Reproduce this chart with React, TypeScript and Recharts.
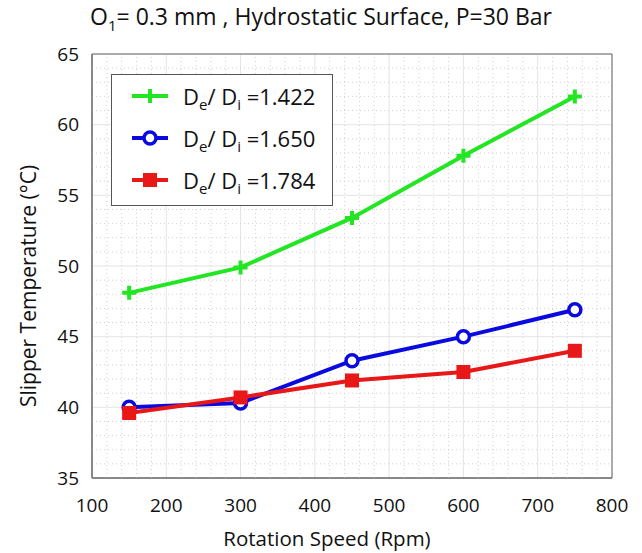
import React from 'react';
import {
  LineChart,
  Line,
  XAxis,
  YAxis,
  CartesianGrid,
  Legend,
  ReferenceLine,
  ReferenceArea,
} from 'recharts';

// rotation speed (rpm) and slipper temperature (°C) for each De/Di ratio
const speeds = [150, 300, 450, 600, 750];
const ratio1422 = [48.1, 49.9, 53.4, 57.8, 62.0];
const ratio1650 = [40.0, 40.3, 43.3, 45.0, 46.9];
const ratio1784 = [39.6, 40.7, 41.9, 42.5, 44.0];

const xTicks = [100, 200, 300, 400, 500, 600, 700, 800];
const yTicks = [35, 40, 45, 50, 55, 60, 65];

const data = speeds.map((s, i) => ({
  speed: s,
  r1422: ratio1422[i],
  r1650: ratio1650[i],
  r1784: ratio1784[i],
}));

// dotted minor grid: every 20 rpm and every 1 °C
const minorX: number[] = [];
for (let v = 120; v < 800; v += 20) if (v % 100 !== 0) minorX.push(v);
const minorY: number[] = [];
for (let v = 36; v < 65; v += 1) if (v % 5 !== 0) minorY.push(v);

const GREEN = '#22e622';
const BLUE = '#0a0ae0';
const RED = '#e81818';

const FONT = '"Open Sans", "Noto Sans", sans-serif';

const PlusDot = (props: any) => {
  const { cx, cy } = props;
  if (cx == null || cy == null) return null;
  return (
    <path
      d={`M${cx - 7},${cy}h14M${cx},${cy - 7}v14`}
      stroke={GREEN}
      strokeWidth={4}
      fill="none"
    />
  );
};

const CircleDot = (props: any) => {
  const { cx, cy } = props;
  if (cx == null || cy == null) return null;
  return <circle cx={cx} cy={cy} r={6} fill="#fff" stroke={BLUE} strokeWidth={3.5} />;
};

const SquareDot = (props: any) => {
  const { cx, cy } = props;
  if (cx == null || cy == null) return null;
  return <rect x={cx - 7} y={cy - 7} width={14} height={14} fill={RED} />;
};

const series = [
  { key: 'r1422', label: '1.422', color: GREEN, dot: PlusDot },
  { key: 'r1650', label: '1.650', color: BLUE, dot: CircleDot },
  { key: 'r1784', label: '1.784', color: RED, dot: SquareDot },
];

const LegendIcon = ({ idx, color }: { idx: number; color: string }) => (
  <svg width={40} height={20} style={{ display: 'block' }}>
    <line x1={2} y1={10} x2={38} y2={10} stroke={color} strokeWidth={4} />
    {idx === 0 && <path d="M13,10h14M20,3v14" stroke={color} strokeWidth={4} />}
    {idx === 1 && <circle cx={20} cy={10} r={6} fill="#fff" stroke={color} strokeWidth={3.5} />}
    {idx === 2 && <rect x={13} y={3} width={14} height={14} fill={color} />}
  </svg>
);

const renderLegend = () => (
  <div
    style={{
      width: 222,
      height: 132,
      border: '1px solid #555',
      background: '#fff',
      boxSizing: 'border-box',
      padding: '0 0 0 18px',
      fontFamily: FONT,
      fontSize: 22,
      color: '#111',
    }}
  >
    {series.map((s, i) => (
      <div key={s.key} style={{ display: 'flex', alignItems: 'center', height: 42 }}>
        <LegendIcon idx={i} color={s.color} />
        <span style={{ marginLeft: 13, whiteSpace: 'nowrap', lineHeight: '26px' }}>
          D<sub style={{ fontSize: 15, lineHeight: 0 }}>e</sub>/ D
          <sub style={{ fontSize: 15, lineHeight: 0 }}>i</sub> ={s.label}
        </span>
      </div>
    ))}
  </div>
);

const YTitle = (props: any) => {
  const vb = props.viewBox || {};
  const cx = 28;
  const cy = vb.y + vb.height / 2 + 20;
  return (
    <text
      x={cx}
      y={cy}
      transform={`rotate(-90, ${cx}, ${cy})`}
      textAnchor="middle"
      dominantBaseline="central"
      fill="#111"
      fontSize={21}
      fontFamily={FONT}
    >
      Slipper Temperature (°C)
    </text>
  );
};

const XTitle = (props: any) => {
  const vb = props.viewBox || {};
  const cx = vb.x + vb.width / 2 - 25;
  return (
    <text x={cx} y={538} textAnchor="middle" dominantBaseline="central" fill="#111" fontSize={20.5} fontFamily={FONT}>
      Rotation Speed (Rpm)
    </text>
  );
};

export default function App() {
  return (
    <div style={{ position: 'absolute', left: 0, top: 0, width: 642, height: 553, background: '#fff' }}>
      <div
        style={{
          position: 'absolute',
          left: 0,
          top: 0,
          width: 642,
          textAlign: 'center',
          fontFamily: FONT,
          fontSize: 23,
          color: '#111',
          zIndex: 2,
        }}
      >
        O<sub style={{ fontSize: 15 }}>1</sub>= 0.3 mm , Hydrostatic Surface, P=30 Bar
      </div>
      <LineChart
        width={642}
        height={553}
        data={data}
        margin={{ top: 54, right: 30, bottom: 27, left: 32 }}
        style={{ fontFamily: FONT }}
      >
        <CartesianGrid stroke="#e4e4e4" strokeWidth={1} />
        {minorX.map((v) => (
          <ReferenceLine key={`mx${v}`} x={v} stroke="#d0d0d0" strokeDasharray="1 3" />
        ))}
        {minorY.map((v) => (
          <ReferenceLine key={`my${v}`} y={v} stroke="#d0d0d0" strokeDasharray="1 3" />
        ))}
        <ReferenceArea x1={100} x2={800} y1={35} y2={65} fill="none" stroke="#666" strokeWidth={1} />
        <XAxis
          dataKey="speed"
          type="number"
          domain={[100, 800]}
          ticks={xTicks}
          allowDataOverflow
          height={48}
          axisLine={{ stroke: '#666' }}
          tickLine={false}
          tickMargin={15}
          tick={{ fill: '#111', fontSize: 19 }}
          label={<XTitle />}
        />
        <YAxis
          type="number"
          domain={[35, 65]}
          ticks={yTicks}
          allowDataOverflow
          width={60}
          axisLine={{ stroke: '#666' }}
          tickLine={false}
          tickMargin={7}
          tick={{ fill: '#111', fontSize: 19 }}
          label={<YTitle />}
        />
        <Legend
          layout="vertical"
          align="center"
          verticalAlign="middle"
          content={renderLegend}
          wrapperStyle={{ left: 111, top: 74, width: 222 }}
        />
        {series.map((s) => (
          <Line
            key={s.key}
            dataKey={s.key}
            type="linear"
            stroke={s.color}
            strokeWidth={4}
            dot={s.dot}
            activeDot={false}
            isAnimationActive={false}
          />
        ))}
      </LineChart>
    </div>
  );
}
